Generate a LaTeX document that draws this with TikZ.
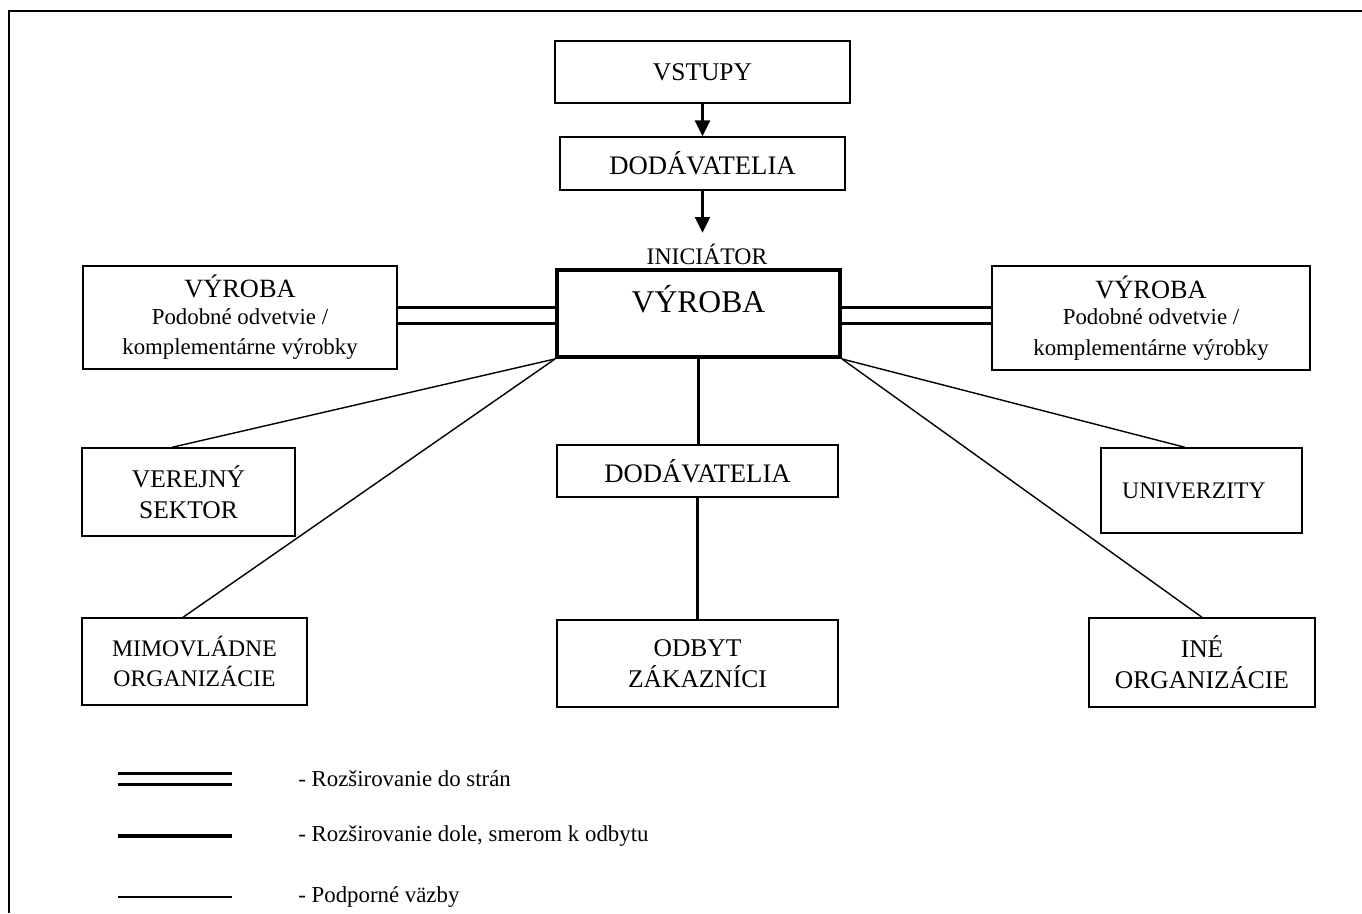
\documentclass[tikz,border=0pt]{standalone}
\usepackage{fontspec}
\setmainfont{Liberation Serif}
\usetikzlibrary{arrows.meta}
\newcommand{\velkyfont}{\fontsize{15pt}{18pt}\selectfont}
\newcommand{\malyfont}{\fontsize{13pt}{15.5pt}\selectfont}
\tikzset{
  box/.style={draw, line width=0.8pt, align=center, inner sep=0pt,
    font=\fontsize{14.5pt}{17.5pt}\selectfont},
  hlavny/.style={box, line width=2.2pt, font=\fontsize{18pt}{21pt}\selectfont,
    text height=16pt, text depth=17.5pt},
  sipka/.style={line width=1.3pt, -{Triangle[width=8.5pt,length=9pt]}},
  bocne/.style={line width=1.7pt, double=white, double distance=7.5pt},
  dolu/.style={line width=1.9pt},
  podpora/.style={line width=0.8pt},
  legenda/.style={anchor=west, inner sep=0pt, font=\fontsize{13pt}{15pt}\selectfont}
}
\begin{document}
\begin{tikzpicture}[x=0.02cm, y=-0.02cm]
\useasboundingbox (0,0) rectangle (1362,913);
% ramik
\draw[line width=1.2pt] (9,913) -- (9,11) -- (1362,11);

% dodavatelsky retazec
\node[box, minimum width=5.9cm, minimum height=1.24cm] (vstupy) at (702.5,72) {VSTUPY};
\node[box, minimum width=5.7cm, minimum height=1.06cm, font=\fontsize{15.2pt}{18pt}\selectfont] (dod1) at (702.5,163.5) {DODÁVATELIA};
\node[inner sep=0pt, font=\fontsize{13.5pt}{16pt}\selectfont] (ini) at (707,254) {INICIÁTOR};
\node[hlavny, minimum width=5.66cm, minimum height=1.74cm] (vyroba) at (698.5,313.5) {VÝROBA};

% bocne vyroby
\node[box, minimum width=6.28cm, minimum height=2.06cm] (lvyr) at (240,317.5)
  {\velkyfont VÝROBA\\[-2.5pt] \malyfont Podobné odvetvie /\\ \malyfont komplementárne výrobky};
\node[box, minimum width=6.36cm, minimum height=2.08cm] (pvyr) at (1151,318)
  {\velkyfont VÝROBA\\[-2.5pt] \malyfont Podobné odvetvie /\\ \malyfont komplementárne výrobky};

% podporne organizacie
\node[box, minimum width=4.26cm, minimum height=1.76cm] (verejny) at (188.5,492) {VEREJNÝ\\SEKTOR};
\node[box, minimum width=4.5cm, minimum height=1.74cm, font=\fontsize{13.5pt}{17pt}\selectfont] (mimo) at (194.5,661.5) {MIMOVLÁDNE\\ORGANIZÁCIE};
\node[box, minimum width=4.02cm, minimum height=1.7cm, font=\fontsize{13.5pt}{17pt}\selectfont] (univ) at (1201.5,490.5) {UNIVERZITY\hspace{0.3cm}};
\node[box, minimum width=4.52cm, minimum height=1.78cm] (ine) at (1202,662.5) {INÉ\\ORGANIZÁCIE};

% smerom k odbytu
\node[box, minimum width=5.62cm, minimum height=1.04cm, font=\fontsize{15.2pt}{18pt}\selectfont] (dod2) at (697.5,471) {DODÁVATELIA};
\node[box, minimum width=5.62cm, minimum height=1.74cm] (odbyt) at (697.5,663.5) {ODBYT\\ZÁKAZNÍCI};

% spojenia
\draw[sipka] (vstupy) -- (dod1);
\draw[sipka] (dod1.south) -- ([yshift=6pt]dod1.south |- ini.north);
\draw[bocne] (lvyr.east |- 0,315.5) -- (vyroba.west |- 0,315.5);
\draw[bocne] (vyroba.east |- 0,315.5) -- (pvyr.west |- 0,315.5);
\draw[dolu] (vyroba.south) -- (vyroba.south |- dod2.north);
\draw[dolu] (dod2) -- (odbyt);
\draw[podpora] (vyroba.south west) -- ([xshift=-0.33cm]verejny.north);
\draw[podpora] (vyroba.south west) -- ([xshift=-0.23cm]mimo.north);
\draw[podpora] (vyroba.south east) -- ([xshift=-0.33cm]univ.north);
\draw[podpora] (vyroba.south east) -- (ine.north);

% legenda
\node[legenda] (leg1) at (298,779) {- Rozširovanie do strán};
\node[legenda] (leg2) at (298,836) {- Rozširovanie dole, smerom k odbytu};
\node[legenda] (leg3) at (298,897) {- Podporné väzby};
\draw[bocne, line width=1.5pt, double distance=5pt] (leg1.west) ++(-66,0) -- ++(-114,0);
\draw[dolu] (leg2.west) ++(-66,0) -- ++(-114,0);
\draw[podpora] (leg3.west) ++(-66,0) -- ++(-114,0);
\end{tikzpicture}
\end{document}
